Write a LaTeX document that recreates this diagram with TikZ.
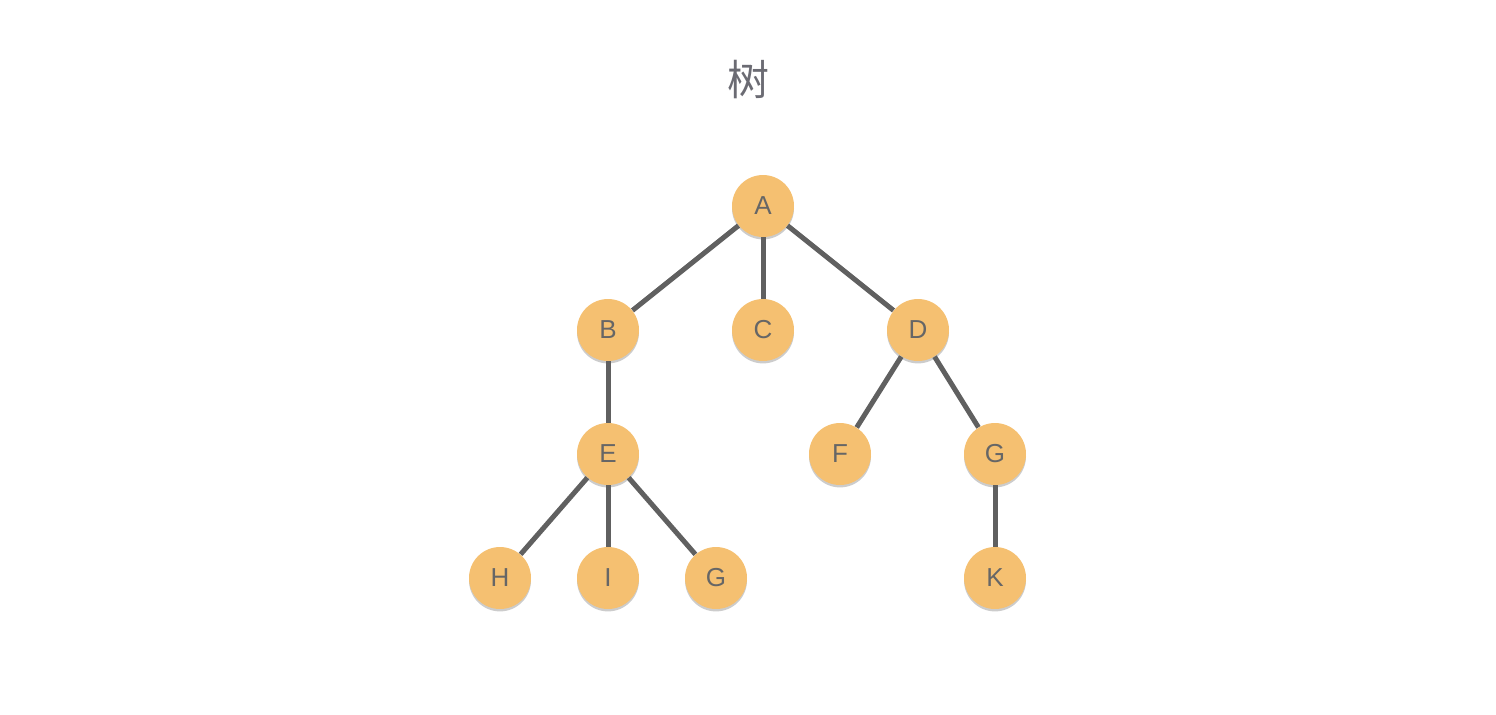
\documentclass[tikz,border=0pt]{standalone}
\usepackage{fontspec}
\setmainfont{Liberation Sans}
\newfontfamily\cjk{Noto Sans CJK SC}
\usepackage{xcolor}
\usetikzlibrary{shadows}
\definecolor{nodefill}{HTML}{F5C071}
\definecolor{labelgray}{HTML}{666666}
\definecolor{edgegray}{HTML}{606060}
\definecolor{titlegray}{HTML}{6B6B73}
\tikzstyle{treenode} = [circle, 
minimum size=31pt, 
inner sep=0pt, 
fill=nodefill, 
text=labelgray, 
font=\fontsize{13}{15}\selectfont,
drop shadow={shadow xshift=0pt, shadow yshift=-1.2pt, opacity=0.2, fill=black}]
\tikzstyle{branch} = [line width=2.5pt, draw=edgegray]

\begin{document}
\begin{tikzpicture}[x=0.5pt, y=-0.5pt]
        \useasboundingbox (0,0) rectangle (1496,714);

        % --- Título ---
        \node (title) [text=titlegray, font=\cjk\fontsize{21}{24}\selectfont] at (748,80) {树};

        % --- Nodos ---
        \node (A) [treenode] at (763,206) {A};
        \node (B) [treenode] at (608,330) {B};
        \node (C) [treenode] at (763,330) {C};
        \node (D) [treenode] at (918,330) {D};
        \node (E) [treenode] at (608,454) {E};
        \node (F) [treenode] at (840,454) {F};
        \node (G) [treenode] at (995,454) {G};
        \node (H) [treenode] at (500,578) {H};
        \node (I) [treenode] at (608,578) {I};
        \node (G2) [treenode] at (716,578) {G};
        \node (K) [treenode] at (995,578) {K};

        % --- Aristas ---
        \draw [branch] (A) -- (B);
        \draw [branch] (A) -- (C);
        \draw [branch] (A) -- (D);
        \draw [branch] (B) -- (E);
        \draw [branch] (D) -- (F);
        \draw [branch] (D) -- (G);
        \draw [branch] (E) -- (H);
        \draw [branch] (E) -- (I);
        \draw [branch] (E) -- (G2);
        \draw [branch] (G) -- (K);

    \end{tikzpicture}
\end{document}
